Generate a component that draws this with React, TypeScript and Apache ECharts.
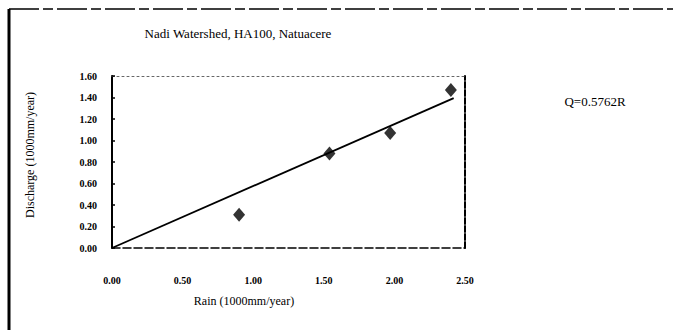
import React, { useEffect, useRef } from "react";
import * as echarts from "echarts";

const rain = [0.9, 1.54, 1.97, 2.4];
const discharge = [0.31, 0.88, 1.07, 1.47];
const slope = 0.5762;
const trendX = [0, 2.42];
const yTicks = ["0.00", "0.20", "0.40", "0.60", "0.80", "1.00", "1.20", "1.40", "1.60"];
const xTicks = ["0.00", "0.50", "1.00", "1.50", "2.00", "2.50"];

const FONT = "Liberation Serif";

export default function App() {
  const ref = useRef<HTMLDivElement>(null);
  useEffect(() => {
    const chart = echarts.init(ref.current!, null, { renderer: "svg" });
    const left = 112, top = 76, width = 353, height = 172;
    chart.setOption({
      animation: false,
      backgroundColor: "#fff",
      textStyle: { fontFamily: FONT, color: "#000" },
      grid: { left, top, width, height, show: false },
      xAxis: [
        {
          type: "value", min: 0, max: 2.5, interval: 0.5,
          axisLine: { show: true, onZero: false, lineStyle: { color: "#000", width: 1.5, type: [8, 3] } },
          axisTick: { show: false },
          splitLine: { show: false },
          axisLabel: {
            margin: 27, fontSize: 10, fontFamily: FONT, color: "#000", fontWeight: "bold",
            formatter: (v: number) => xTicks[Math.round(v / 0.5)] ?? "",
          },
        },
        {
          type: "value", min: 0, max: 2.5, interval: 0.5, position: "top",
          axisLine: { show: true, onZero: false, lineStyle: { color: "#666", width: 1, type: [2, 3] } },
          axisTick: { show: false }, axisLabel: { show: false }, splitLine: { show: false },
        },
      ],
      yAxis: [
        {
          type: "value", min: 0, max: 1.6, interval: 0.2,
          axisLine: { show: true, onZero: false, lineStyle: { color: "#000", width: 2 } },
          axisTick: { show: true, inside: true, length: 3, lineStyle: { color: "#000", width: 1.5 } },
          splitLine: { show: false },
          axisLabel: {
            margin: 15, fontSize: 10, fontFamily: FONT, color: "#000", fontWeight: "bold",
            formatter: (v: number) => yTicks[Math.round(v / 0.2)] ?? "",
          },
        },
        {
          type: "value", min: 0, max: 1.6, interval: 0.2, position: "right",
          axisLine: { show: true, onZero: false, lineStyle: { color: "#000", width: 2, type: [6, 2] } },
          axisTick: { show: false }, axisLabel: { show: false }, splitLine: { show: false },
        },
      ],
      series: [
        {
          type: "line",
          data: trendX.map((x) => [x, x * slope]),
          showSymbol: false,
          lineStyle: { color: "#000", width: 1.8 },
          silent: true,
        },
        {
          type: "scatter",
          data: rain.map((r, i) => [r, discharge[i]]),
          symbol: "diamond",
          symbolSize: [12, 14],
          itemStyle: { color: "#000" },
        },
      ],
      graphic: [
        { type: "line", shape: { x1: 9, y1: 9, x2: 9, y2: 330 }, style: { stroke: "#000", lineWidth: 3 } },
        { type: "line", shape: { x1: 9, y1: 9, x2: 673, y2: 9 }, style: { stroke: "#000", lineWidth: 1.5, lineDash: [30, 4, 10, 4] } },
        {
          type: "text", x: 238, y: 33,
          style: { text: "Nadi Watershed, HA100, Natuacere", font: `13px "${FONT}"`, fill: "#000", textAlign: "center", textVerticalAlign: "middle" },
        },
        {
          type: "text", x: 595, y: 101,
          style: { text: "Q=0.5762R", font: `13px "${FONT}"`, fill: "#000", textAlign: "center", textVerticalAlign: "middle" },
        },
        {
          type: "text", x: 244, y: 301,
          style: { text: "Rain (1000mm/year)", font: `12px "${FONT}"`, fill: "#000", textAlign: "center", textVerticalAlign: "middle" },
        },
        {
          type: "text", x: 30, y: 155, rotation: Math.PI / 2,
          style: { text: "Discharge (1000mm/year)", font: `12px "${FONT}"`, fill: "#000", textAlign: "center", textVerticalAlign: "middle" },
        },
      ],
    });
    return () => chart.dispose();
  }, []);
  return <div ref={ref} style={{ position: "fixed", left: 0, top: 0, width: 673, height: 330 }} />;
}
